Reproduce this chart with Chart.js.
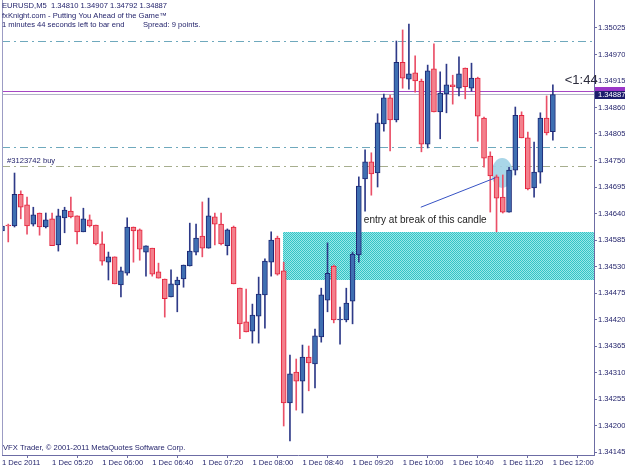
<!DOCTYPE html>
<html>
<head>
<meta charset="utf-8">
<script src="https://cdn.jsdelivr.net/npm/chart.js@4.4.0/dist/chart.umd.min.js"></script>
<style>
  html, body { margin: 0; padding: 0; background: #fff; }
</style>
</head>
<body>
<canvas id="c" width="625" height="469"></canvas>
<script>
// ─── EURUSD M5, 1 Dec 2011 04:40 .. 12:00 (89 bars) ──────────
const opens = [
  1.34604, 1.34616, 1.34614, 1.34680, 1.34658, 1.34618, 1.34641, 1.34612, 1.34629, 1.34575,
  1.34631, 1.34645, 1.34635, 1.34602, 1.34627, 1.34616, 1.34577, 1.34539, 1.34550, 1.34492,
  1.34516, 1.34612, 1.34606, 1.34560, 1.34568, 1.34519, 1.34504, 1.34467, 1.34492, 1.34504,
  1.34531, 1.34560, 1.34593, 1.34568, 1.34633, 1.34618, 1.34573, 1.34612, 1.34485, 1.34415,
  1.34396, 1.34427, 1.34471, 1.34539, 1.34589, 1.34521, 1.34247, 1.34311, 1.34292, 1.34342,
  1.34328, 1.34384, 1.34460, 1.34531, 1.34419, 1.34419, 1.34458, 1.34554, 1.34712, 1.34747,
  1.34724, 1.34826, 1.34880, 1.34834, 1.34954, 1.34919, 1.34932, 1.34915, 1.34784, 1.34940,
  1.34851, 1.34888, 1.34907, 1.34900, 1.34942, 1.34900, 1.34921, 1.34838, 1.34759, 1.34716,
  1.34674, 1.34643, 1.34730, 1.34844, 1.34797, 1.34693, 1.34726, 1.34838, 1.34810,
];
const highs = [
  1.34614, 1.34618, 1.34724, 1.34687, 1.34674, 1.34653, 1.34641, 1.34641, 1.34641, 1.34649,
  1.34653, 1.34674, 1.34635, 1.34651, 1.34637, 1.34616, 1.34602, 1.34560, 1.34550, 1.34529,
  1.34631, 1.34612, 1.34608, 1.34573, 1.34568, 1.34537, 1.34504, 1.34523, 1.34508, 1.34533,
  1.34620, 1.34618, 1.34664, 1.34672, 1.34641, 1.34641, 1.34608, 1.34614, 1.34485, 1.34483,
  1.34452, 1.34508, 1.34546, 1.34602, 1.34593, 1.34539, 1.34346, 1.34338, 1.34367, 1.34365,
  1.34400, 1.34485, 1.34579, 1.34533, 1.34446, 1.34485, 1.34560, 1.34716, 1.34772, 1.34766,
  1.34847, 1.34888, 1.34886, 1.34998, 1.35021, 1.35033, 1.34967, 1.34919, 1.34948, 1.34992,
  1.34934, 1.34950, 1.34927, 1.34965, 1.34942, 1.34952, 1.34923, 1.34840, 1.34768, 1.34720,
  1.34720, 1.34736, 1.34861, 1.34851, 1.34809, 1.34788, 1.34849, 1.34884, 1.34907,
];
const lows = [
  1.34566, 1.34581, 1.34612, 1.34629, 1.34597, 1.34614, 1.34595, 1.34610, 1.34573, 1.34562,
  1.34600, 1.34631, 1.34577, 1.34602, 1.34612, 1.34575, 1.34533, 1.34502, 1.34494, 1.34467,
  1.34512, 1.34539, 1.34543, 1.34510, 1.34510, 1.34506, 1.34425, 1.34467, 1.34436, 1.34487,
  1.34531, 1.34554, 1.34550, 1.34568, 1.34575, 1.34575, 1.34554, 1.34494, 1.34380, 1.34394,
  1.34371, 1.34371, 1.34402, 1.34510, 1.34512, 1.34199, 1.34168, 1.34232, 1.34226, 1.34272,
  1.34278, 1.34373, 1.34436, 1.34413, 1.34369, 1.34415, 1.34411, 1.34539, 1.34645, 1.34678,
  1.34695, 1.34811, 1.34770, 1.34830, 1.34900, 1.34898, 1.34892, 1.34768, 1.34776, 1.34851,
  1.34795, 1.34849, 1.34867, 1.34884, 1.34878, 1.34894, 1.34790, 1.34736, 1.34643, 1.34602,
  1.34641, 1.34643, 1.34720, 1.34797, 1.34689, 1.34674, 1.34703, 1.34803, 1.34792,
];
const closes = [
  1.34614, 1.34614, 1.34680, 1.34653, 1.34614, 1.34637, 1.34612, 1.34627, 1.34573, 1.34635,
  1.34647, 1.34633, 1.34602, 1.34629, 1.34614, 1.34577, 1.34541, 1.34550, 1.34494, 1.34521,
  1.34612, 1.34604, 1.34566, 1.34573, 1.34514, 1.34506, 1.34463, 1.34494, 1.34502, 1.34533,
  1.34562, 1.34589, 1.34568, 1.34635, 1.34618, 1.34577, 1.34606, 1.34494, 1.34411, 1.34394,
  1.34429, 1.34473, 1.34541, 1.34585, 1.34514, 1.34247, 1.34307, 1.34292, 1.34342, 1.34330,
  1.34386, 1.34471, 1.34516, 1.34419, 1.34421, 1.34454, 1.34556, 1.34697, 1.34747, 1.34722,
  1.34828, 1.34880, 1.34834, 1.34954, 1.34921, 1.34930, 1.34915, 1.34784, 1.34936, 1.34851,
  1.34890, 1.34907, 1.34903, 1.34930, 1.34903, 1.34921, 1.34842, 1.34755, 1.34718, 1.34672,
  1.34643, 1.34730, 1.34844, 1.34797, 1.34691, 1.34726, 1.34838, 1.34807, 1.34887,
];

// eje de tiempo: una etiqueta cada 8 velas
const tickBars   = [0, 8, 16, 24, 32, 40, 48, 56, 64, 72, 80, 88];
const tickLabels = ['1 Dec 2011', '1 Dec 05:20', '1 Dec 06:00', '1 Dec 06:40', '1 Dec 07:20', '1 Dec 08:00',
                    '1 Dec 08:40', '1 Dec 09:20', '1 Dec 10:00', '1 Dec 10:40', '1 Dec 11:20', '1 Dec 12:00'];
const priceTicks = [1.34145, 1.34200, 1.34255, 1.34310, 1.34365, 1.34420, 1.34475, 1.34530, 1.34585,
                    1.34640, 1.34695, 1.34750, 1.34805, 1.34860, 1.34915, 1.34970, 1.35025];

// objetos del gráfico
const levelPrices = [1.34998, 1.34778, 1.34739];
const levelColors = ['#6fa9bd', '#6fa9bd', '#a7ae8e'];
const bidPrice = 1.34887;
const askPrice = 1.34895;
const zoneTop = 1.34602, zoneBottom = 1.34502, zoneFromBar = 44.9;

const BULL_FILL = '#3f6fb2', BULL_EDGE = '#1c2774', BULL_WICK = '#2e3a88';
const BEAR_FILL = '#f3808c', BEAR_EDGE = '#e4233d', BEAR_WICK = '#ea5068';
const AXIS = '#6c6ca4', TEXT = '#24246c';
const FONT = 'Liberation Sans, Arial, sans-serif';

const isBull = opens.map((o, i) => closes[i] >= o);
const wicks  = opens.map((o, i) => ({ x: i, y: [lows[i], highs[i]] }));
const bodies = opens.map((o, i) => ({ x: i, y: [Math.min(o, closes[i]), Math.max(o, closes[i])] }));

function zonePattern(ctx) {
  const p = document.createElement('canvas');
  p.width = 2; p.height = 2;
  const g = p.getContext('2d');
  g.fillStyle = '#9ae8e8'; g.fillRect(0, 0, 2, 2);
  g.fillStyle = '#33c4c6'; g.fillRect(0, 0, 1, 1); g.fillRect(1, 1, 1, 1);
  return ctx.createPattern(p, 'repeat');
}

const mt4Objects = {
  id: 'mt4Objects',
  beforeDatasetsDraw(chart) {
    const { ctx, chartArea: a, scales: { x, y } } = chart;
    ctx.save();
    ctx.beginPath();
    ctx.rect(a.left, a.top, a.right - a.left, a.bottom - a.top);
    ctx.clip();

    // zona de demanda
    const zx = Math.round(x.getPixelForValue(zoneFromBar));
    const zt = Math.round(y.getPixelForValue(zoneTop));
    const zb = Math.round(y.getPixelForValue(zoneBottom));
    ctx.fillStyle = zonePattern(ctx);
    ctx.fillRect(zx, zt, a.right - zx, zb - zt);

    // niveles punteados
    ctx.lineWidth = 1;
    ctx.setLineDash([8, 4, 2, 4]);
    levelPrices.forEach((p, k) => {
      const py = Math.round(y.getPixelForValue(p)) + 0.5;
      ctx.strokeStyle = levelColors[k];
      ctx.beginPath(); ctx.moveTo(a.left, py); ctx.lineTo(a.right, py); ctx.stroke();
    });
    ctx.setLineDash([]);

    // bid / ask
    const by = Math.round(y.getPixelForValue(bidPrice)) + 0.5;
    ctx.strokeStyle = '#b4b4c8';
    ctx.beginPath(); ctx.moveTo(a.left, by); ctx.lineTo(a.right, by); ctx.stroke();
    const ay = Math.round(y.getPixelForValue(askPrice)) + 0.5;
    ctx.strokeStyle = '#a648c4';
    ctx.beginPath(); ctx.moveTo(a.left, ay); ctx.lineTo(a.right, ay); ctx.stroke();

    // elipse sobre la vela de entrada
    const ex = x.getPixelForValue(79.9), ey = y.getPixelForValue(1.34724);
    const rx = x.getPixelForValue(79.9 + 1.68) - ex;
    const ry = y.getPixelForValue(1.34724) - y.getPixelForValue(1.34755);
    ctx.fillStyle = 'rgba(160, 210, 230, 0.9)';
    ctx.beginPath(); ctx.ellipse(ex, ey, rx, ry, 0, 0, Math.PI * 2); ctx.fill();
    ctx.restore();
  },
  afterDraw(chart) {
    const { ctx, chartArea: a, scales: { x, y } } = chart;
    ctx.save();

    // borde izquierdo
    ctx.strokeStyle = '#9c9cc4';
    ctx.lineWidth = 1;
    ctx.beginPath(); ctx.moveTo(a.left + 0.5, a.top); ctx.lineTo(a.left + 0.5, a.bottom); ctx.stroke();

    // flecha de la anotación
    ctx.strokeStyle = '#3652c4';
    ctx.beginPath();
    ctx.moveTo(x.getPixelForValue(66.9), y.getPixelForValue(1.34653));
    ctx.lineTo(x.getPixelForValue(78.8), y.getPixelForValue(1.34714));
    ctx.stroke();

    ctx.textBaseline = 'middle';
    ctx.textAlign = 'left';
    ctx.fillStyle = '#1c1c1c';
    ctx.font = '10px ' + FONT;
    ctx.fillText('entry at break of this candle', x.getPixelForValue(57.8), y.getPixelForValue(1.34627));

    ctx.fillStyle = '#2c2c3c';
    ctx.font = '13px ' + FONT;
    ctx.fillText('<1:44', x.getPixelForValue(89.9), y.getPixelForValue(1.34917));

    ctx.fillStyle = TEXT;
    ctx.font = '7.6px ' + FONT;
    ctx.textBaseline = 'bottom';
    ctx.fillText('#3123742 buy', x.getPixelForValue(0.8), y.getPixelForValue(levelPrices[2]) - 1);

    ctx.textBaseline = 'middle';
    ctx.fillText('EURUSD,M5  1.34810 1.34907 1.34792 1.34887', 2, 6);
    ctx.fillText('fxKnight.com - Putting You Ahead of the Game™', 2, 15.5);
    ctx.fillText('1 minutes 44 seconds left to bar end', 2, 24.5);
    ctx.fillText('Spread: 9 points.', 143, 24.5);
    ctx.fillText('VFX Trader, © 2001-2011 MetaQuotes Software Corp.', 3, 447.5);

    // etiquetas de precio en el eje
    const ay = Math.round(y.getPixelForValue(askPrice));
    const by = Math.round(y.getPixelForValue(bidPrice));
    ctx.fillStyle = '#9a36c8';
    ctx.fillRect(a.right + 1, ay - 4, chart.width - a.right - 1, 8);
    ctx.fillStyle = '#1c1c6c';
    ctx.fillRect(a.right + 1, by - 3, chart.width - a.right - 1, 8);
    ctx.fillStyle = '#ffffff';
    ctx.fillText(bidPrice.toFixed(5), a.right + 4, by + 1);
    ctx.restore();
  },
};

new Chart(document.getElementById('c'), {
  type: 'bar',
  data: {
    datasets: [
      {
        label: 'body',
        data: bodies,
        backgroundColor: isBull.map(b => b ? BULL_FILL : BEAR_FILL),
        borderColor:     isBull.map(b => b ? BULL_EDGE : BEAR_EDGE),
        borderWidth: 1,
        borderSkipped: false,
        barThickness: 5,
        minBarLength: 1,
        grouped: false,
        order: 0,
      },
      {
        label: 'wick',
        data: wicks,
        backgroundColor: isBull.map(b => b ? BULL_WICK : BEAR_WICK),
        barThickness: 1,
        grouped: false,
        order: 1,
      },
    ],
  },
  options: {
    responsive: false,
    animation: false,
    layout: { padding: { left: 2, top: 0, right: 0, bottom: 0 } },
    plugins: { legend: { display: false }, tooltip: { enabled: false } },
    scales: {
      x: {
        type: 'linear',
        min: 0,
        max: 94.57,
        offset: false,
        afterBuildTicks: s => { s.ticks = tickBars.map(v => ({ value: v })); },
        afterFit: s => { s.height = 14; s.paddingLeft = 0; s.paddingRight = 0; },
        ticks: {
          autoSkip: false, maxRotation: 0, align: 'start', padding: 0,
          color: TEXT, font: { family: FONT, size: 7.6 },
          callback: (v, i) => tickLabels[i],
        },
        grid: { drawOnChartArea: false, drawTicks: true, tickLength: 3, color: AXIS },
        border: { color: AXIS },
      },
      y: {
        position: 'right',
        min: 1.341388,
        max: 1.350831,
        afterBuildTicks: s => { s.ticks = priceTicks.map(v => ({ value: v })); },
        afterFit: s => { s.width = 31; s.paddingTop = 0; s.paddingBottom = 0; },
        ticks: {
          padding: 1, color: TEXT, font: { family: FONT, size: 7.6 },
          callback: v => v.toFixed(5),
        },
        grid: { drawOnChartArea: false, drawTicks: true, tickLength: 3, color: AXIS },
        border: { color: AXIS },
      },
    },
  },
  plugins: [mt4Objects],
});
</script>
</body>
</html>
